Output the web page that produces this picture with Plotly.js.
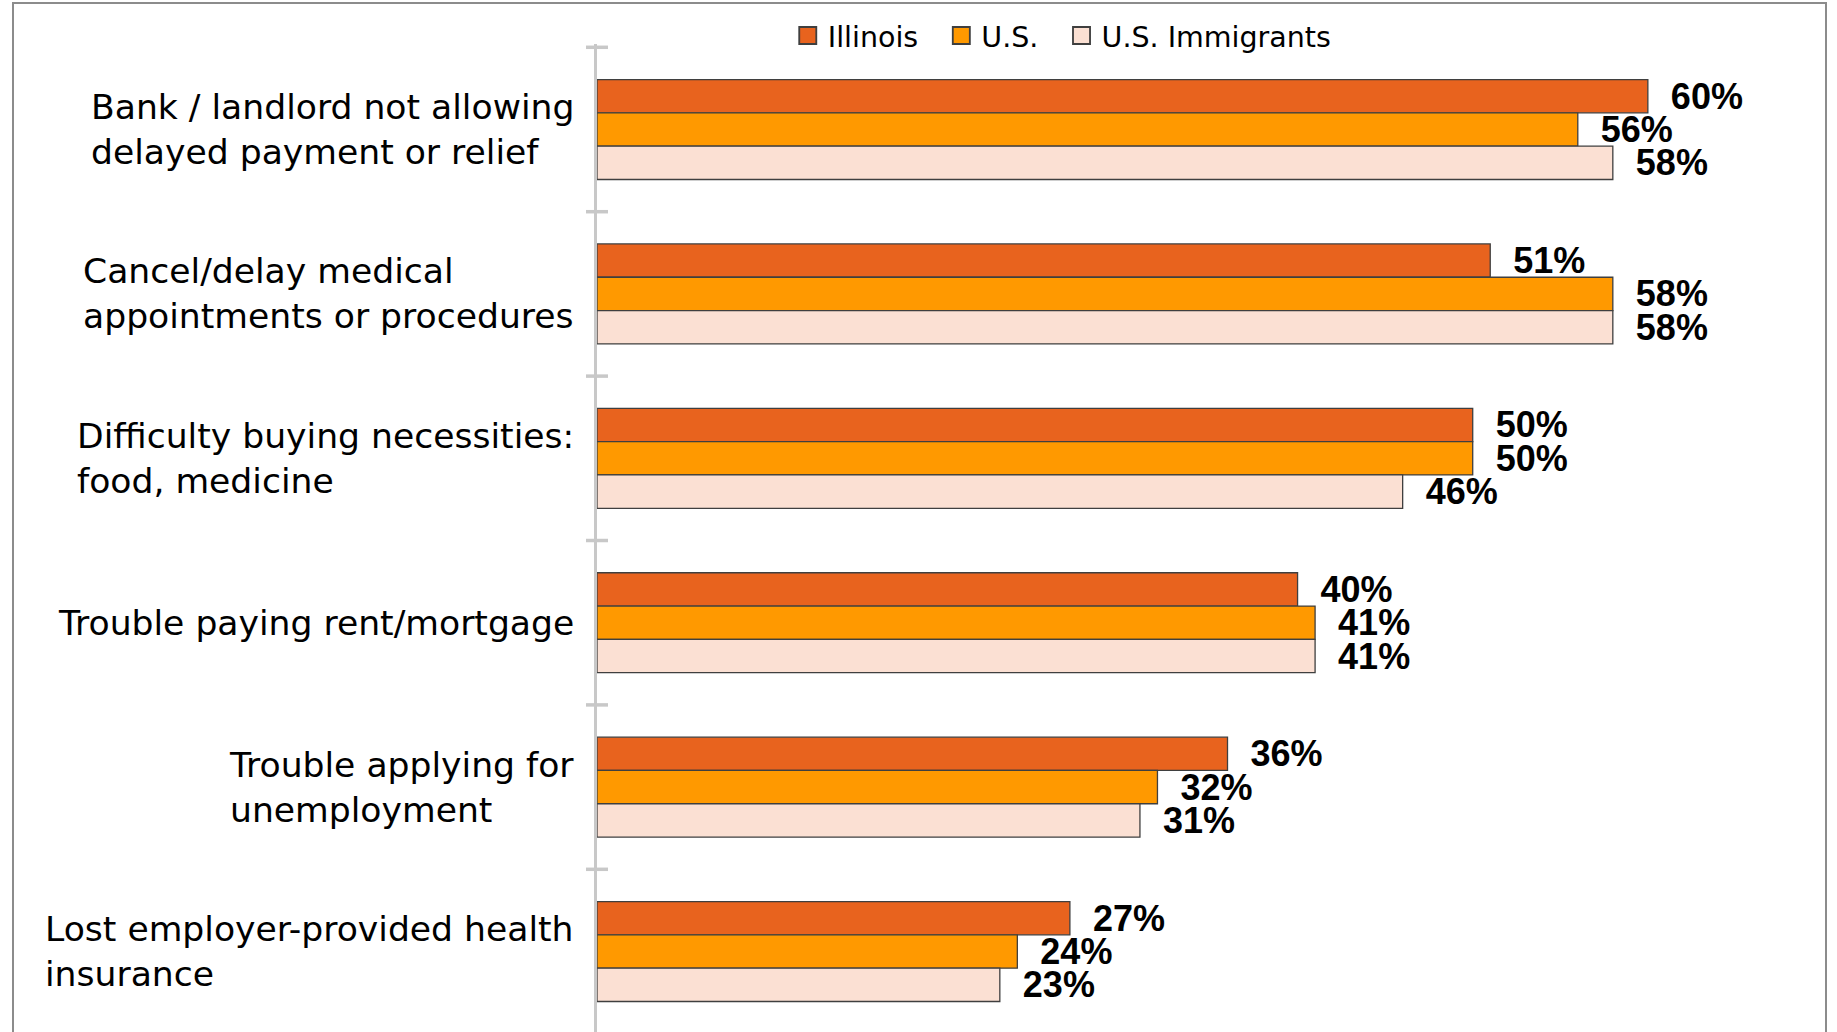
<!DOCTYPE html>
<html><head><meta charset="utf-8">
<script src="https://cdn.plot.ly/plotly-3.0.1.min.js"></script>
<style>
html,body{margin:0;padding:0;overflow:hidden;background:#fff;}
#chart{position:absolute;left:0;top:0;width:1837px;height:1032px;}
#frame{position:absolute;left:12px;top:2px;width:1811px;height:1100px;border:2px solid #8c8c8c;pointer-events:none;}
.legendpoints path{transform:translate(20px,0px) scale(1.42) !important;}
</style></head><body>
<div id="chart"></div><div id="frame"></div>
<script>
const categories = [
  "Bank / landlord not allowing delayed payment or relief",
  "Cancel/delay medical appointments or procedures",
  "Difficulty buying necessities: food, medicine",
  "Trouble paying rent/mortgage",
  "Trouble applying for unemployment",
  "Lost employer-provided health insurance"
];
const categoryLabels = [
  "Bank / landlord not allowing<br>delayed payment or relief",
  "Cancel/delay medical<br>appointments or procedures",
  "Difficulty buying necessities:<br>food, medicine",
  "Trouble paying rent/mortgage",
  "Trouble applying for<br>unemployment",
  "Lost employer-provided health<br>insurance"
];
const seriesNames = ["Illinois", "U.S.", "U.S. Immigrants"];
const illinois = [60, 51, 50, 40, 36, 27];
const us = [56, 58, 50, 41, 32, 24];
const usImmigrants = [58, 58, 46, 41, 31, 23];

const seriesValues = [illinois, us, usImmigrants];
const seriesColors = ["#E8631E", "#FF9900", "#FBE0D3"];
const legendPad = ["\u00a0\u00a0", "\u00a0\u00a0", ""];

const traces = seriesValues.map((vals, k) => ({
  type: "bar",
  orientation: "h",
  name: seriesNames[k] + legendPad[k],
  y: categories,
  x: vals,
  marker: {color: seriesColors[k], line: {color: "#3f3f3f", width: 1.3}},
  text: vals.map(v => "\u00a0\u00a0" + v + "%"),
  textposition: "outside",
  constraintext: "none",
  cliponaxis: false,
  textfont: {family: "Liberation Sans, Arial, sans-serif", size: 36, color: "#000", weight: "bold"},
  hoverinfo: "skip"
}));

const boundaries = categories.map((c, i) => i - 0.5);
const yRange = [5.4896, -0.5201];

const tickShapes = boundaries.map(b => ({
  type: "line", xref: "paper", xsizemode: "pixel", xanchor: 0, x0: -11, x1: 11,
  yref: "y", y0: b, y1: b,
  line: {color: "#c8c8c8", width: 3.5}
}));

const annotations = categories.map((c, i) => ({
  xref: "x", x: 0, yref: "y", y: c,
  text: categoryLabels[i],
  xanchor: "right", yanchor: "middle", align: "left",
  showarrow: false, xshift: -21,
  font: {family: "DejaVu Sans, sans-serif", size: 34.6, color: "#000"}
}));

const layout = {
  width: 1837, height: 1032,
  margin: {l: 597, r: 14, t: 44, b: 0, autoexpand: false},
  paper_bgcolor: "#fff", plot_bgcolor: "rgba(0,0,0,0)",
  barmode: "group", bargap: 0.392, bargroupgap: 0,
  showlegend: true,
  legend: {orientation: "h", x: 0.3795, xanchor: "center", y: 1.0081, yanchor: "middle",
           font: {family: "DejaVu Sans, sans-serif", size: 28.5, color: "#000"},
           traceorder: "normal", bgcolor: "rgba(0,0,0,0)"},
  xaxis: {range: [0, 70], visible: false, fixedrange: true},
  yaxis: {type: "category", categoryorder: "array", categoryarray: categories,
          range: yRange, autorange: false, showticklabels: false,
          showline: true, linecolor: "#c8c8c8", linewidth: 3,
          ticks: "", showgrid: false, zeroline: false, fixedrange: true},
  shapes: tickShapes,
  annotations: annotations
};

Plotly.newPlot("chart", traces, layout, {displayModeBar: false, staticPlot: true});
</script>
</body></html>
